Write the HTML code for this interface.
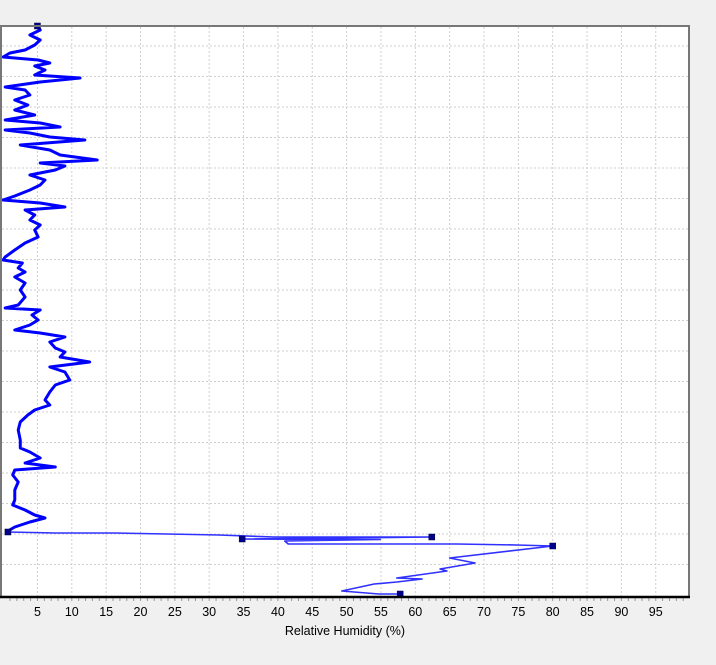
<!DOCTYPE html>
<html><head><meta charset="utf-8"><style>
html,body{margin:0;padding:0;background:#f0f0f0;}
svg{display:block;font-family:"Liberation Sans",sans-serif;}
</style></head><body>
<svg id="chart" width="716" height="665" viewBox="0 0 716 665" xmlns="http://www.w3.org/2000/svg">
<rect x="1" y="26" width="688" height="570" fill="#ffffff"/>
<g id="grid"></g>
<g id="series"></g>
<g id="axis"></g>
<line x1="0" y1="26" x2="690" y2="26" stroke="#777" stroke-width="2"/>
<line x1="1" y1="26" x2="1" y2="597" stroke="#777" stroke-width="2"/>
<line x1="689" y1="26" x2="689" y2="597" stroke="#777" stroke-width="2"/>
<line x1="0" y1="597" x2="690" y2="597" stroke="#000" stroke-width="2.5"/>
<text x="345" y="635" font-size="12.5" text-anchor="middle" fill="#000">Relative Humidity (%)</text>
</svg>
<script>
// Upper profile: relative humidity (%) and level (units above baseline)
const upperRH = [5.1,5.4,3.9,5.4,4.6,3.2,1.0,0.0,5.1,6.8,4.6,6.1,4.6,11.2,5.4,0.3,3.2,3.9,1.7,3.6,1.7,4.6,0.3,5.4,8.3,0.3,3.9,6.8,11.9,2.5,6.8,8.3,13.7,5.4,9.0,7.6,3.9,6.1,5.4,3.9,
1.7,0.0,5.4,9.0,3.2,4.6,3.9,5.4,4.6,5.1,3.2,1.7,0.3,0.0,2.8,2.2,3.2,1.7,3.2,2.5,3.2,2.2,0.3,5.4,4.2,5.1,3.9,1.7,5.4,9.0,6.8,7.6,9.0,8.3,12.6,
6.8,9.0,9.7,7.6,6.8,6.1,6.8,4.6,3.6,2.5,2.2,2.5,2.5,3.9,5.4,3.2,7.6,1.7,1.4,2.2,1.7,1.7,1.4,3.2,4.6,6.1,3.9,1.7,0.7];
const upperLvl = [569,566,561,556,551,546,543,539,536,533,530,526,521,518,514,509,506,501,496,491,486,481,476,473,469,466,463,459,456,451,446,441,436,433,430,426,421,416,411,406,
400,396,393,389,386,381,376,371,366,359,353,346,339,336,333,328,324,319,313,306,299,291,288,286,281,276,271,266,263,259,254,248,244,239,234,
229,224,216,211,204,196,191,186,181,174,166,156,148,144,138,133,129,126,121,114,106,96,91,86,81,78,74,69,65];
// Lower profile (thin trace)
const lowerRH = [0.7,7.6,16.2,31.4,39.4,62.4,34.8,54.9,41.0,41.5,66.0,74.7,80.0,65.0,68.7,63.6,64.6,57.3,61.0,57.3,54.0,49.3,54.7,57.8];
const lowerLvl = [64,63,63,61,59,59,57,56.5,55,52,52,51,50,38,33,27,25,18,17,14,12,5,2,2];
// Marker points
const markRH = [5.0,0.7,62.4,34.8,80.0,57.8];
const markLvl = [570,64,59,57,50,2];
const xTicks = [5,10,15,20,25,30,35,40,45,50,55,60,65,70,75,80,85,90,95];
const hGridLvl = [550,519.5,489,458.5,428,397.5,367,336.5,306,275.5,245,214.5,184,153.5,123,92.5,62,31.5];

const NS="http://www.w3.org/2000/svg";
const xS = v => 3.1 + v*6.87;
const yS = l => 596 - l;
function mk(tag, attrs, parent){const e=document.createElementNS(NS,tag);for(const k in attrs)e.setAttribute(k,attrs[k]);parent.appendChild(e);return e;}
const grid=document.getElementById('grid'), series=document.getElementById('series'), axis=document.getElementById('axis');
xTicks.forEach(t=>{
  const l=mk('line',{x1:xS(t),x2:xS(t),y1:27,y2:596,stroke:'#cfcfcf','stroke-width':1,'stroke-dasharray':'2,2'},grid);
  
  
  const tx=mk('text',{x:xS(t),y:616,'font-size':12.5,'text-anchor':'middle',fill:'#000'},axis);
  tx.textContent=t;
  
  
});
hGridLvl.forEach(v=>{
  const l=mk('line',{x1:2,x2:688,y1:yS(v),y2:yS(v),stroke:'#cfcfcf','stroke-width':1,'stroke-dasharray':'2,2'},grid);
  
  
});
for(let v=1; v<100; v++){
  const l=mk('line',{x1:xS(v),x2:xS(v),y1:598,y2:601,stroke:'#999','stroke-width':1},axis);
  
  
}
const up=mk('polyline',{points:upperRH.map((r,i)=>xS(r)+','+yS(upperLvl[i])).join(' '),fill:'none',stroke:'#0000ff','stroke-width':3,'stroke-linejoin':'round'},series);


const lo=mk('polyline',{points:lowerRH.map((r,i)=>xS(r)+','+yS(lowerLvl[i])).join(' '),fill:'none',stroke:'#3030ff','stroke-width':1.6,'stroke-linejoin':'round'},series);


markRH.forEach((r,i)=>{
  const m=mk('rect',{x:xS(r)-3,y:yS(markLvl[i])-3,width:6,height:6,fill:'#00008b',stroke:'#000040','stroke-width':0.5},series);
  
  
});
</script>
</body></html>
